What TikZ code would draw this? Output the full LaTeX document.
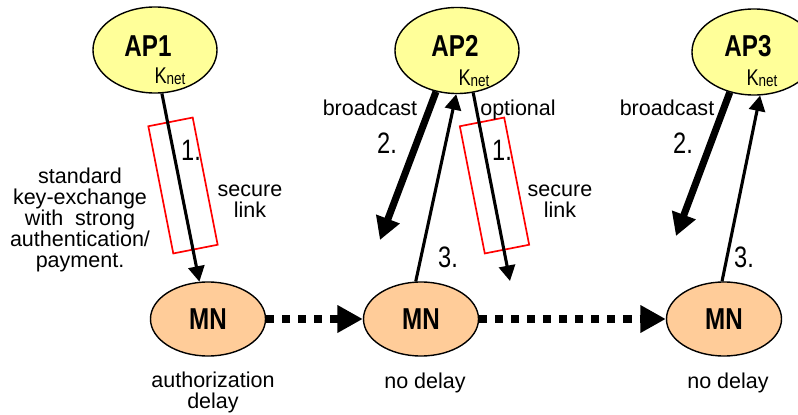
\documentclass[tikz,border=0pt]{standalone}
\usepackage{fontspec}
\setmainfont{Liberation Sans}
\newfontfamily\narrowsans[FakeStretch=0.8]{Liberation Sans}
\usetikzlibrary{shapes.geometric, arrows.meta, calc}
\definecolor{apyellow}{RGB}{255,255,153}
\definecolor{mnorange}{RGB}{255,204,153}
\tikzset{
    % Access points - yellow ellipses
    ap node/.style={ellipse, draw=black, line width=1pt, fill=apyellow, minimum width=3.1cm, minimum height=2.15cm, inner sep=0pt},
    % Mobile node - orange ellipses
    mn node/.style={ellipse, draw=black, line width=1pt, fill=mnorange, minimum width=2.875cm, minimum height=1.85cm, inner sep=0pt, font=\narrowsans\bfseries\fontsize{21.5}{24}\selectfont},
    % Names inside the access points
    ap name/.style={inner sep=0pt, font=\narrowsans\bfseries\fontsize{21.5}{24}\selectfont},
    key name/.style={inner sep=0pt, anchor=base, font=\narrowsans\fontsize{16.2}{17}\selectfont},
    % Plain comments
    note/.style={inner sep=0pt, align=center, font=\fontsize{15.3}{15}\selectfont},
    % Step numbers
    step num/.style={inner sep=0pt, anchor=base, font=\narrowsans\fontsize{21}{24}\selectfont},
    % Secure channel - red box
    secure box/.style={rectangle, draw=red, line width=1.2pt, minimum width=3.24cm, minimum height=1.13cm, inner sep=0pt, rotate=-78.9},
    % Links
    key link/.style={line width=2.2pt, -{Triangle[length=11pt, width=11.5pt]}},
    broadcast link/.style={line width=5pt, -{Triangle[length=16pt, width=17pt]}},
    handover/.style={line width=5.7pt, dash pattern=on 5.7pt off 5.7pt, -{Triangle[length=18pt, width=18.5pt]}}
}
\newcommand{\knet}{K{\fontsize{12}{12}\selectfont\raisebox{-1pt}{net}}}

\begin{document}
\begin{tikzpicture}[x=0.025cm, y=-0.025cm]
    \useasboundingbox (0,0) rectangle (798,415);

    % --- Access points ---
    \node[ap node] (AP1) at (155,50) {};
    \node[ap node] (AP2) at (457,50.5) {};
    \node[ap node] (AP3) at (754,52) {};
    \node[ap name] (AP1name) at ($(AP1)+(-7,-4)$) {AP1};
    \node[ap name] (AP2name) at ($(AP2)+(-2,-4.5)$) {AP2};
    \node[ap name] (AP3name) at ($(AP3)+(-6,-6)$) {AP3};
    \node[key name] (AP1key) at (170,83) {\knet};
    \node[key name] (AP2key) at (474,85) {\knet};
    \node[key name] (AP3key) at (762,85) {\knet};

    % --- Mobile node positions ---
    \node[mn node] (MN1) at (208,319) {MN};
    \node[mn node] (MN2) at (421,319) {MN};
    \node[mn node] (MN3) at (724,319) {MN};

    % --- Free ends ---
    \coordinate (B2) at (380,240);
    \coordinate (B3) at (676,236);
    \coordinate (O2) at (510,281);

    % --- Secure links ---
    \node[secure box] (box1) at (183,185.5) {};
    \node[secure box] (box2) at (494.5,185.5) {};
    \draw[key link] (AP1.-81) -- (MN1.103);
    \draw[key link] (AP2.-69) -- (O2);

    % --- Broadcast and reply ---
    \draw[broadcast link] (AP2.243) -- (B2);
    \draw[broadcast link] (AP3.239) -- (B3);
    \draw[key link] (MN2.98) -- (AP2.269);
    \draw[key link] (MN3.93) -- (AP3.-82);

    % --- Handover ---
    \draw[handover] (MN1.east) -- (MN2.west);
    \draw[handover] (MN2.east) -- (MN3.west);

    % --- Labels ---
    \node[step num] (s1a) at (191,160) {1.};
    \node[step num] (s1b) at (502,160) {1.};
    \node[step num] (s2a) at (387,153) {2.};
    \node[step num] (s2b) at (683,153) {2.};
    \node[step num] (s3a) at (448,267) {3.};
    \node[step num] (s3b) at (744,267) {3.};

    \node[note, anchor=base] (bc1) at (370,115) {broadcast};
    \node[note, anchor=base] (bc2) at (667,115) {broadcast};
    \node[note, anchor=base] (opt) at (518,115) {optional};
    \node[note] (sec1) at (250,201) {secure\\link};
    \node[note] (sec2) at (560,201) {secure\\link};
    \node[note] (kex) at (80,220) {standard\\key-exchange\\with\ \ strong\\authentication/\\payment.};

    \node[note, anchor=north] (d1) at (213,372) {authorization\\delay};
    \node[note, anchor=base] (d2) at (425,388) {no delay};
    \node[note, anchor=base] (d3) at (728,388) {no delay};
\end{tikzpicture}
\end{document}
